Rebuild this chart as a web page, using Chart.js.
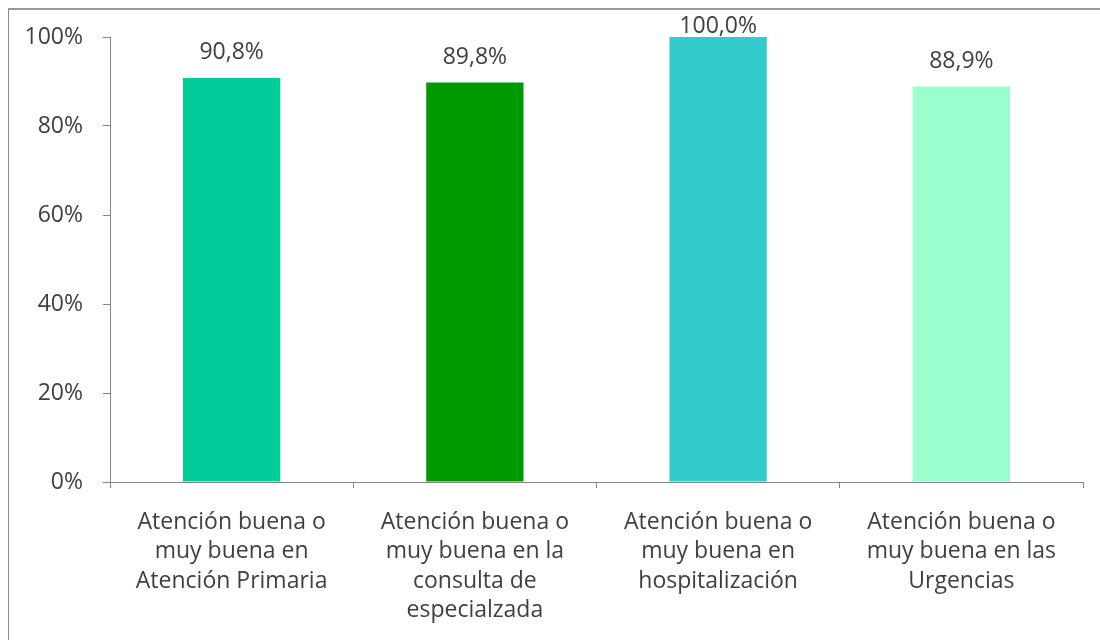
<!DOCTYPE html>
<html>
<head>
<meta charset="utf-8">
<script src="https://cdn.jsdelivr.net/npm/chart.js@4"></script>
<style>
  html, body { margin: 0; padding: 0; background: #fff; overflow: hidden; }
  #wrap { position: absolute; left: 0; top: 0; width: 1100px; height: 640px; }
  #frame { position: absolute; left: 8px; top: 8px; width: 1200px; height: 800px;
           border-left: 1px solid #8a8a8a; border-top: 2px solid #9a9a9a; pointer-events: none; }
</style>
</head>
<body>
<div id="wrap">
  <canvas id="barCanvas" width="1100" height="640"></canvas>
  <div id="frame"></div>
</div>
<script>
const categories = [
  ["Atención buena o", "muy buena en", "Atención Primaria"],
  ["Atención buena o", "muy buena en la", "consulta de", "especialzada"],
  ["Atención buena o", "muy buena en", "hospitalización"],
  ["Atención buena o", "muy buena en las", "Urgencias"]
];
const values = [90.8, 89.8, 100.0, 88.9];
const barColors = ["#00CC99", "#009900", "#33CCCC", "#99FFCC"];
const yTicks = [0, 20, 40, 60, 80, 100];

const FONT = "'Open Sans', sans-serif";
const TEXT = "#404040";
const AXIS = "#868686";

// etiquetas de datos encima de cada barra
const valueLabels = {
  id: "valueLabels",
  afterDatasetsDraw(chart) {
    const ctx = chart.ctx;
    const meta = chart.getDatasetMeta(0);
    ctx.save();
    ctx.font = "23px " + FONT;
    ctx.fillStyle = TEXT;
    ctx.textAlign = "center";
    ctx.textBaseline = "middle";
    meta.data.forEach((bar, i) => {
      const txt = values[i].toFixed(1).replace(".", ",") + "%";
      const y = Math.max(bar.y - 25, 26);
      ctx.fillText(txt, bar.x, y);
    });
    ctx.restore();
  }
};

const barCanvas = document.getElementById("barCanvas");

const barChart = new Chart(barCanvas, {
  type: "bar",
  data: {
    labels: categories,
    datasets: [{
      data: values,
      backgroundColor: barColors,
      borderWidth: 0,
      barPercentage: 0.4,
      categoryPercentage: 1
    }]
  },
  options: {
    responsive: false,
    animation: false,
    layout: { padding: { top: 37, right: 17, left: 0, bottom: 0 } },
    plugins: {
      legend: { display: false },
      tooltip: { enabled: false }
    },
    scales: {
      x: {
        offset: true,
        grid: { offset: true, drawOnChartArea: false, drawTicks: true, tickLength: 6, color: AXIS },
        border: { color: AXIS, width: 1 },
        ticks: {
          color: TEXT,
          font: { family: FONT, size: 23, lineHeight: 1.27 },
          padding: 20,
          maxRotation: 0,
          autoSkip: false
        },
        afterFit(scale) { scale.height = 158; }
      },
      y: {
        min: 0,
        max: 100,
        afterBuildTicks(scale) { scale.ticks = yTicks.map(v => ({ value: v })); },
        grid: { drawOnChartArea: false, drawTicks: true, tickLength: 7, color: AXIS },
        border: { color: AXIS, width: 1 },
        ticks: {
          color: TEXT,
          font: { family: FONT, size: 23 },
          padding: 20,
          callback: v => v + "%"
        },
        afterFit(scale) { scale.width = 110; }
      }
    }
  },
  plugins: [valueLabels]
});
</script>
</body>
</html>
